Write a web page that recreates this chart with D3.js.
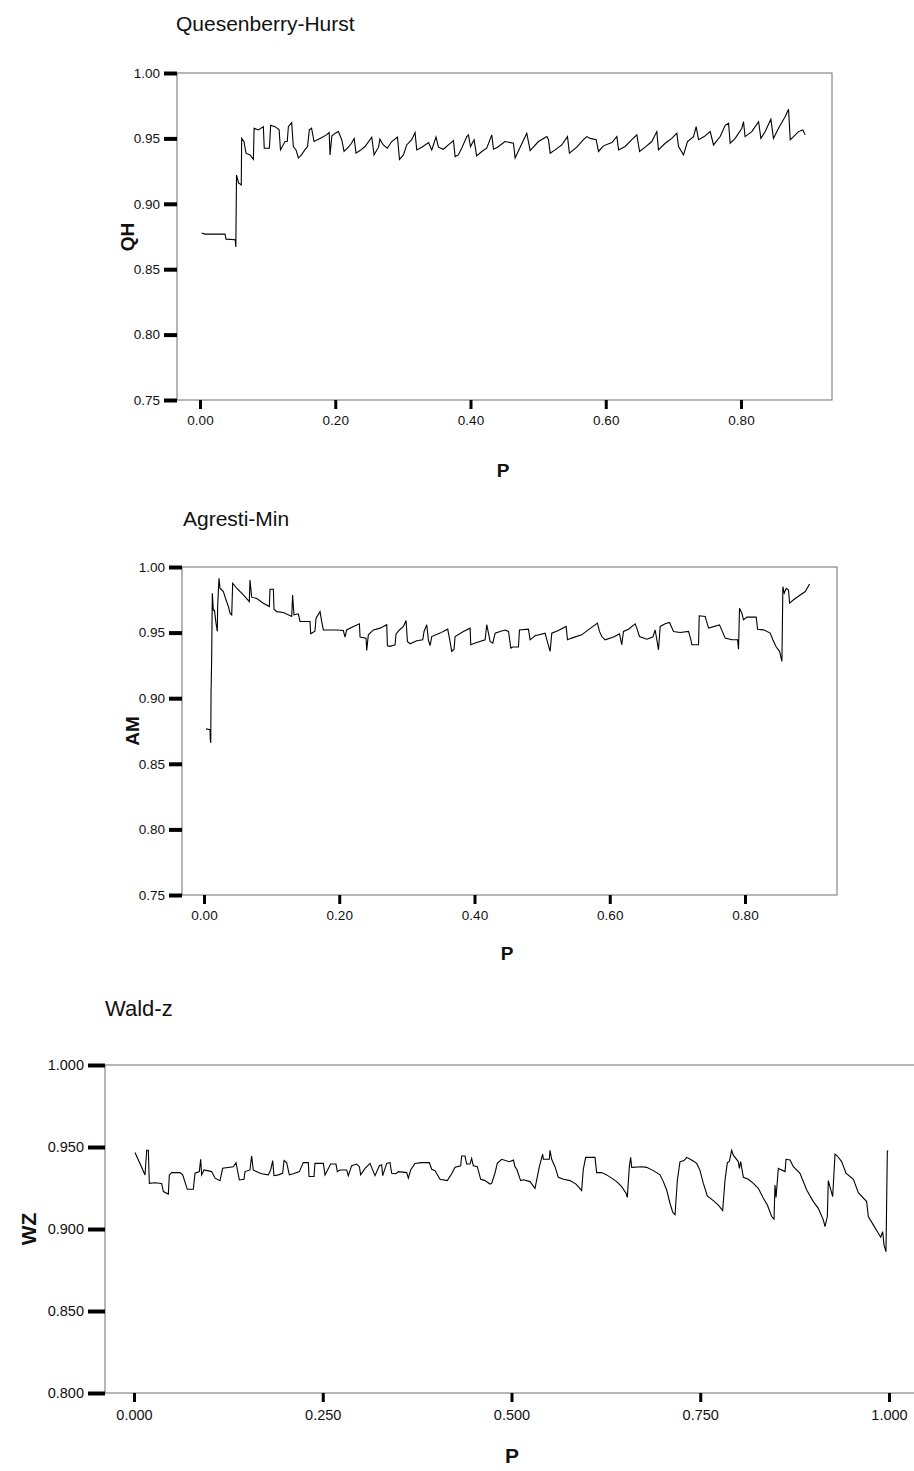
<!DOCTYPE html>
<html><head><meta charset="utf-8">
<script src="https://cdn.jsdelivr.net/npm/d3@7/dist/d3.min.js"></script>
<style>
html,body{margin:0;padding:0;background:#fff;}
svg{display:block;font-family:"Liberation Sans",Arial,sans-serif;}
</style></head>
<body>
<svg id="c" width="914" height="1471"></svg>
<script>
// ---------- DATA ----------
const qhTicksX = [0, 0.2, 0.4, 0.6, 0.8];
const qhTicksY = [0.75, 0.80, 0.85, 0.90, 0.95, 1.00];
const qhP = [0.0025,0.0074,0.037,0.0385,0.052,0.053,0.054,0.057,0.061,0.0616,0.065,0.068,0.074,0.079,0.080,0.0863,0.0937,0.095,0.1026,0.1045,0.111,0.117,0.119,0.1257,0.129,0.1307,0.1356,0.138,0.142,0.1455,0.150,0.155,0.159,0.1617,0.165,0.1686,0.1775,0.187,0.191,0.1923,0.195,0.200,0.2046,0.2096,0.213,0.2194,0.224,0.228,0.2307,0.2367,0.244,0.254,0.2574,0.264,0.266,0.271,0.277,0.2835,0.292,0.295,0.3008,0.3057,0.313,0.318,0.3205,0.328,0.338,0.3427,0.349,0.3526,0.360,0.3673,0.3748,0.3772,0.382,0.387,0.3945,0.397,0.400,0.4053,0.409,0.4167,0.424,0.4315,0.434,0.440,0.451,0.4635,0.466,0.4734,0.4832,0.4882,0.5005,0.513,0.5153,0.5178,0.525,0.535,0.5434,0.5463,0.5572,0.567,0.572,0.5769,0.5858,0.5893,0.5966,0.609,0.6164,0.619,0.6287,0.6386,0.646,0.650,0.6583,0.6681,0.6755,0.678,0.6879,0.6977,0.7051,0.7076,0.715,0.7209,0.7298,0.7337,0.7372,0.7456,0.7544,0.7594,0.7692,0.7766,0.7816,0.784,0.7914,0.8013,0.8037,0.806,0.816,0.826,0.8294,0.8358,0.8442,0.848,0.8555,0.8654,0.8703,0.8728,0.8777,0.8851,0.8915,0.895];
const qhV = [0.8776,0.8768,0.8768,0.873,0.8725,0.867,0.922,0.916,0.9145,0.950,0.9476,0.9387,0.9374,0.934,0.9578,0.9565,0.959,0.9425,0.9425,0.960,0.959,0.9565,0.9412,0.9476,0.9476,0.959,0.962,0.9438,0.9412,0.935,0.9374,0.9412,0.9438,0.9565,0.9578,0.9476,0.950,0.9527,0.9545,0.9374,0.952,0.954,0.9552,0.949,0.940,0.9433,0.9463,0.950,0.9387,0.9407,0.9438,0.951,0.9374,0.9433,0.9494,0.945,0.9425,0.9476,0.951,0.934,0.9374,0.945,0.949,0.9545,0.9412,0.9433,0.9468,0.9412,0.951,0.9433,0.9417,0.945,0.9483,0.9361,0.9374,0.9425,0.9514,0.9527,0.9438,0.949,0.9366,0.940,0.9425,0.9527,0.9417,0.9433,0.9476,0.9463,0.935,0.9433,0.954,0.9407,0.9476,0.9514,0.949,0.9387,0.9412,0.945,0.9514,0.9387,0.9433,0.949,0.9514,0.950,0.949,0.940,0.9443,0.9468,0.9514,0.9412,0.9438,0.949,0.9527,0.940,0.9433,0.9476,0.9552,0.9412,0.9463,0.950,0.954,0.9438,0.9374,0.9476,0.9514,0.959,0.949,0.9514,0.9552,0.945,0.9514,0.960,0.9616,0.9463,0.950,0.9578,0.9628,0.9514,0.9552,0.9628,0.950,0.9552,0.9646,0.950,0.9578,0.9667,0.9723,0.9489,0.9514,0.9552,0.9565,0.9527];

const amTicksX = [0, 0.2, 0.4, 0.6, 0.8];
const amTicksY = [0.75, 0.80, 0.85, 0.90, 0.95, 1.00];
const amP = [0.003,0.0089,0.0094,0.010,0.0104,0.0113,0.0123,0.0138,0.0155,0.0178,0.0197,0.0202,0.0222,0.0237,0.0286,0.0325,0.036,0.0385,0.041,0.0424,0.0483,0.0582,0.067,0.068,0.0705,0.078,0.0878,0.0966,0.0976,0.1026,0.1035,0.1075,0.1174,0.1297,0.131,0.133,0.1395,0.142,0.1568,0.1578,0.164,0.1657,0.1716,0.174,0.1765,0.1864,0.1963,0.206,0.2086,0.211,0.221,0.2298,0.2308,0.2396,0.2406,0.243,0.2505,0.2604,0.2702,0.2712,0.275,0.2825,0.284,0.289,0.2949,0.2988,0.3008,0.3047,0.3146,0.3235,0.3254,0.3294,0.3318,0.3343,0.3368,0.349,0.3604,0.3629,0.3663,0.3698,0.3713,0.3836,0.3935,0.3945,0.401,0.4157,0.4181,0.4231,0.427,0.4305,0.4379,0.4453,0.4503,0.4537,0.4566,0.465,0.4665,0.4798,0.4822,0.4896,0.5044,0.507,0.5118,0.5143,0.524,0.5355,0.5375,0.5436,0.5586,0.5651,0.5818,0.5848,0.5882,0.5932,0.6055,0.6144,0.6178,0.6203,0.6277,0.6376,0.640,0.644,0.6548,0.6637,0.6672,0.6721,0.6746,0.682,0.6884,0.6943,0.7042,0.7165,0.720,0.7214,0.7313,0.7323,0.7411,0.7461,0.7623,0.7707,0.7806,0.789,0.7904,0.7919,0.7954,0.7978,0.8028,0.8166,0.8186,0.8274,0.8373,0.8412,0.8462,0.8511,0.8546,0.856,0.858,0.861,0.8644,0.8659,0.8718,0.8817,0.8891,0.8955];
const amV = [0.8766,0.876,0.868,0.866,0.904,0.929,0.980,0.967,0.967,0.957,0.951,0.970,0.9914,0.9838,0.9812,0.975,0.970,0.9648,0.9635,0.9876,0.9838,0.9787,0.9737,0.9901,0.977,0.976,0.9724,0.9699,0.983,0.983,0.9678,0.966,0.9653,0.9623,0.9787,0.9635,0.9643,0.9585,0.9585,0.9491,0.951,0.961,0.966,0.9585,0.952,0.952,0.952,0.9516,0.9466,0.952,0.9547,0.9567,0.9466,0.9458,0.9364,0.9483,0.952,0.9534,0.956,0.940,0.9395,0.9407,0.949,0.952,0.9547,0.9592,0.9433,0.9415,0.9438,0.9445,0.9509,0.956,0.9445,0.940,0.947,0.9496,0.9526,0.9458,0.9357,0.9374,0.947,0.9509,0.9534,0.9407,0.942,0.9445,0.956,0.9433,0.942,0.9496,0.9509,0.952,0.9509,0.9382,0.939,0.939,0.952,0.9526,0.9445,0.9476,0.9496,0.9445,0.9357,0.9496,0.9516,0.9547,0.9445,0.9458,0.9483,0.9509,0.9572,0.9509,0.947,0.9445,0.9466,0.949,0.9407,0.9509,0.9526,0.9567,0.9534,0.947,0.945,0.9466,0.952,0.9369,0.9547,0.9567,0.9577,0.9509,0.9501,0.9509,0.9445,0.9407,0.9407,0.9628,0.9623,0.9534,0.9559,0.9458,0.9445,0.9445,0.9374,0.9686,0.9648,0.9597,0.9618,0.9618,0.9526,0.9521,0.9496,0.9445,0.939,0.9357,0.9281,0.985,0.980,0.9838,0.9825,0.9724,0.975,0.9787,0.9813,0.9871];

const wzTicksX = [0, 0.25, 0.5, 0.75, 1.0];
const wzTicksY = [0.80, 0.85, 0.90, 0.95, 1.00];
const wzP = [0.0013,0.0079,0.0146,0.0168,0.019,0.0203,0.0278,0.0366,0.0389,0.0455,0.0468,0.050,0.061,0.0645,0.0706,0.0786,0.0808,0.0865,0.0883,0.0896,0.0927,0.1029,0.1073,0.1139,0.1174,0.1316,0.1351,0.1395,0.1457,0.147,0.1536,0.1558,0.158,0.1647,0.1691,0.1779,0.181,0.1837,0.1854,0.1912,0.1969,0.1987,0.2022,0.2057,0.211,0.219,0.2243,0.2309,0.2318,0.2384,0.2397,0.2508,0.253,0.2605,0.2675,0.2693,0.2728,0.2817,0.2839,0.2883,0.2949,0.2985,0.3002,0.306,0.3126,0.3192,0.325,0.328,0.3294,0.3347,0.3391,0.3413,0.347,0.3501,0.3611,0.3634,0.3664,0.3722,0.381,0.3912,0.3943,0.3987,0.4053,0.415,0.4208,0.4252,0.4327,0.434,0.4384,0.4406,0.445,0.4472,0.4494,0.4547,0.4592,0.4649,0.4715,0.4737,0.4781,0.4812,0.487,0.4971,0.5026,0.5046,0.507,0.5121,0.5157,0.5245,0.5311,0.5369,0.5413,0.5422,0.5501,0.551,0.5532,0.5576,0.562,0.5687,0.5775,0.5854,0.5885,0.5929,0.5951,0.5982,0.6106,0.6128,0.6194,0.626,0.6327,0.6393,0.6459,0.6517,0.6534,0.6561,0.6578,0.6592,0.6724,0.679,0.6879,0.6967,0.7011,0.7055,0.7099,0.7135,0.7166,0.7197,0.7232,0.7285,0.732,0.7386,0.7453,0.7497,0.7541,0.7594,0.7673,0.774,0.7797,0.7828,0.7859,0.7885,0.7916,0.7938,0.8004,0.8018,0.8035,0.8071,0.8137,0.8203,0.8269,0.8336,0.8389,0.8446,0.8477,0.849,0.8504,0.8534,0.8556,0.8623,0.8636,0.8689,0.8733,0.8821,0.891,0.8998,0.9064,0.913,0.9152,0.9183,0.9196,0.9254,0.9285,0.9316,0.9373,0.943,0.9528,0.9594,0.9704,0.9726,0.9792,0.9859,0.989,0.9916,0.9934,0.996,0.9978,0.999];
const wzV = [0.9467,0.940,0.9329,0.948,0.948,0.9278,0.9282,0.9278,0.9228,0.9213,0.933,0.9344,0.9344,0.933,0.9242,0.9242,0.934,0.935,0.9425,0.933,0.936,0.935,0.931,0.9295,0.937,0.938,0.9405,0.9299,0.9303,0.935,0.936,0.9445,0.936,0.9344,0.9337,0.933,0.936,0.9417,0.9325,0.933,0.934,0.9417,0.9405,0.933,0.9337,0.935,0.9405,0.9405,0.932,0.932,0.940,0.940,0.933,0.9396,0.9396,0.935,0.936,0.936,0.9325,0.9386,0.9396,0.938,0.933,0.937,0.940,0.9325,0.9386,0.9392,0.9325,0.940,0.9405,0.934,0.9337,0.935,0.9344,0.931,0.936,0.940,0.9405,0.9405,0.9364,0.9356,0.9303,0.9295,0.9337,0.9377,0.9386,0.9445,0.9445,0.9396,0.9396,0.943,0.9386,0.938,0.9303,0.9295,0.9274,0.9278,0.934,0.940,0.9425,0.941,0.942,0.938,0.9364,0.9295,0.930,0.9289,0.9248,0.938,0.9457,0.9425,0.9425,0.948,0.9425,0.938,0.9315,0.9303,0.9295,0.9274,0.9258,0.9234,0.9364,0.9437,0.9437,0.9344,0.9344,0.933,0.931,0.9289,0.9258,0.9218,0.9193,0.938,0.9437,0.9376,0.938,0.9376,0.9356,0.933,0.9289,0.9238,0.9157,0.9102,0.9087,0.9299,0.9411,0.9417,0.9437,0.9421,0.940,0.9356,0.9278,0.9201,0.9173,0.9146,0.9112,0.9299,0.9405,0.9411,0.948,0.945,0.9411,0.937,0.9411,0.9315,0.9303,0.9278,0.9248,0.9187,0.9146,0.9076,0.906,0.9268,0.9193,0.937,0.9364,0.935,0.9425,0.9421,0.938,0.934,0.9238,0.9167,0.9126,0.9055,0.9015,0.9076,0.9295,0.9197,0.9457,0.9445,0.9411,0.934,0.9303,0.9222,0.9167,0.9076,0.9025,0.8974,0.895,0.8984,0.8902,0.8862,0.9476,0.9476];

// ---------- LAYOUT ----------
const svg = d3.select("#c");
svg.append("rect").attr("width",914).attr("height",1471).attr("fill","#fff");

function panel(o){
  const g = svg.append("g");
  const x = d3.scaleLinear().domain(o.xDom).range(o.xRng);
  const y = d3.scaleLinear().domain(o.yDom).range([o.bottom, o.top]);
  g.append("text").attr("x",o.titleX).attr("y",o.titleY).attr("font-size",o.titleSize)
    .attr("fill","#111").text(o.title);
  g.append("rect").attr("x",o.left).attr("y",o.top).attr("width",o.right-o.left)
    .attr("height",o.bottom-o.top).attr("fill","none").attr("stroke","#6e6e6e").attr("stroke-width",1);
  const ya = g.append("g").attr("transform",`translate(${o.left},0)`)
    .call(d3.axisLeft(y).tickValues(o.yTicks).tickFormat(d3.format(o.fmt)).tickSize(o.tickLen).tickPadding(4));
  ya.select(".domain").remove();
  ya.selectAll(".tick line").attr("stroke","#000").attr("stroke-width",o.tickW);
  ya.selectAll(".tick text").attr("font-size",o.tickFont).attr("fill","#111").attr("font-family","Liberation Sans, Arial, sans-serif");
  const xa = g.append("g").attr("transform",`translate(0,${o.bottom})`)
    .call(d3.axisBottom(x).tickValues(o.xTicks).tickFormat(d3.format(o.fmt)).tickSize(o.xTickLen).tickPadding(o.xPad));
  xa.select(".domain").remove();
  xa.selectAll(".tick line").attr("stroke","#000").attr("stroke-width",o.xTickW);
  xa.selectAll(".tick text").attr("font-size",o.tickFont).attr("fill","#111").attr("font-family","Liberation Sans, Arial, sans-serif");
  g.append("text").attr("x",o.xLabX).attr("y",o.xLabY).attr("text-anchor","middle")
    .attr("font-size",o.labSize).attr("font-weight","bold").attr("fill","#111").text("P");
  g.append("text").attr("transform",`translate(${o.yLabX},${o.yLabY}) rotate(-90)`).attr("text-anchor","middle")
    .attr("font-size",o.labSize).attr("font-weight","bold").attr("fill","#111").text(o.yLab);
  const pts = o.P.map((p,i)=>[p,o.V[i]]);
  g.append("path").datum(pts).attr("fill","none").attr("stroke","#000").attr("stroke-width",1.1)
    .attr("d", d3.line().x(d=>x(d[0])).y(d=>y(d[1])));
}

panel({title:"Quesenberry-Hurst",titleX:176,titleY:31,titleSize:21,
  left:177,right:832,top:73,bottom:400,xDom:[0,0.8],xRng:[200,741],yDom:[0.75,1.0],
  xTicks:qhTicksX,yTicks:qhTicksY,fmt:".2f",tickLen:13,tickW:4,xTickLen:9,xTickW:3,xPad:6,tickFont:13.5,
  xLabX:503,xLabY:477,yLabX:134,yLabY:237,labSize:19,yLab:"QH",P:qhP,V:qhV});

panel({title:"Agresti-Min",titleX:183,titleY:526,titleSize:21,
  left:182,right:837,top:567,bottom:895,xDom:[0,0.8],xRng:[204,745],yDom:[0.75,1.0],
  xTicks:amTicksX,yTicks:amTicksY,fmt:".2f",tickLen:13,tickW:4,xTickLen:9,xTickW:3,xPad:6,tickFont:13.5,
  xLabX:507,xLabY:960,yLabX:139,yLabY:731,labSize:19,yLab:"AM",P:amP,V:amV});

panel({title:"Wald-z",titleX:105,titleY:1016,titleSize:22,
  left:105,right:930,top:1065,bottom:1393,xDom:[0,1],xRng:[134,889],yDom:[0.8,1.0],
  xTicks:wzTicksX,yTicks:wzTicksY,fmt:".3f",tickLen:17,tickW:4,xTickLen:9,xTickW:3,xPad:8,tickFont:14.5,
  xLabX:512,xLabY:1463,yLabX:36,yLabY:1229,labSize:21,yLab:"WZ",P:wzP,V:wzV});
</script>
</body></html>
